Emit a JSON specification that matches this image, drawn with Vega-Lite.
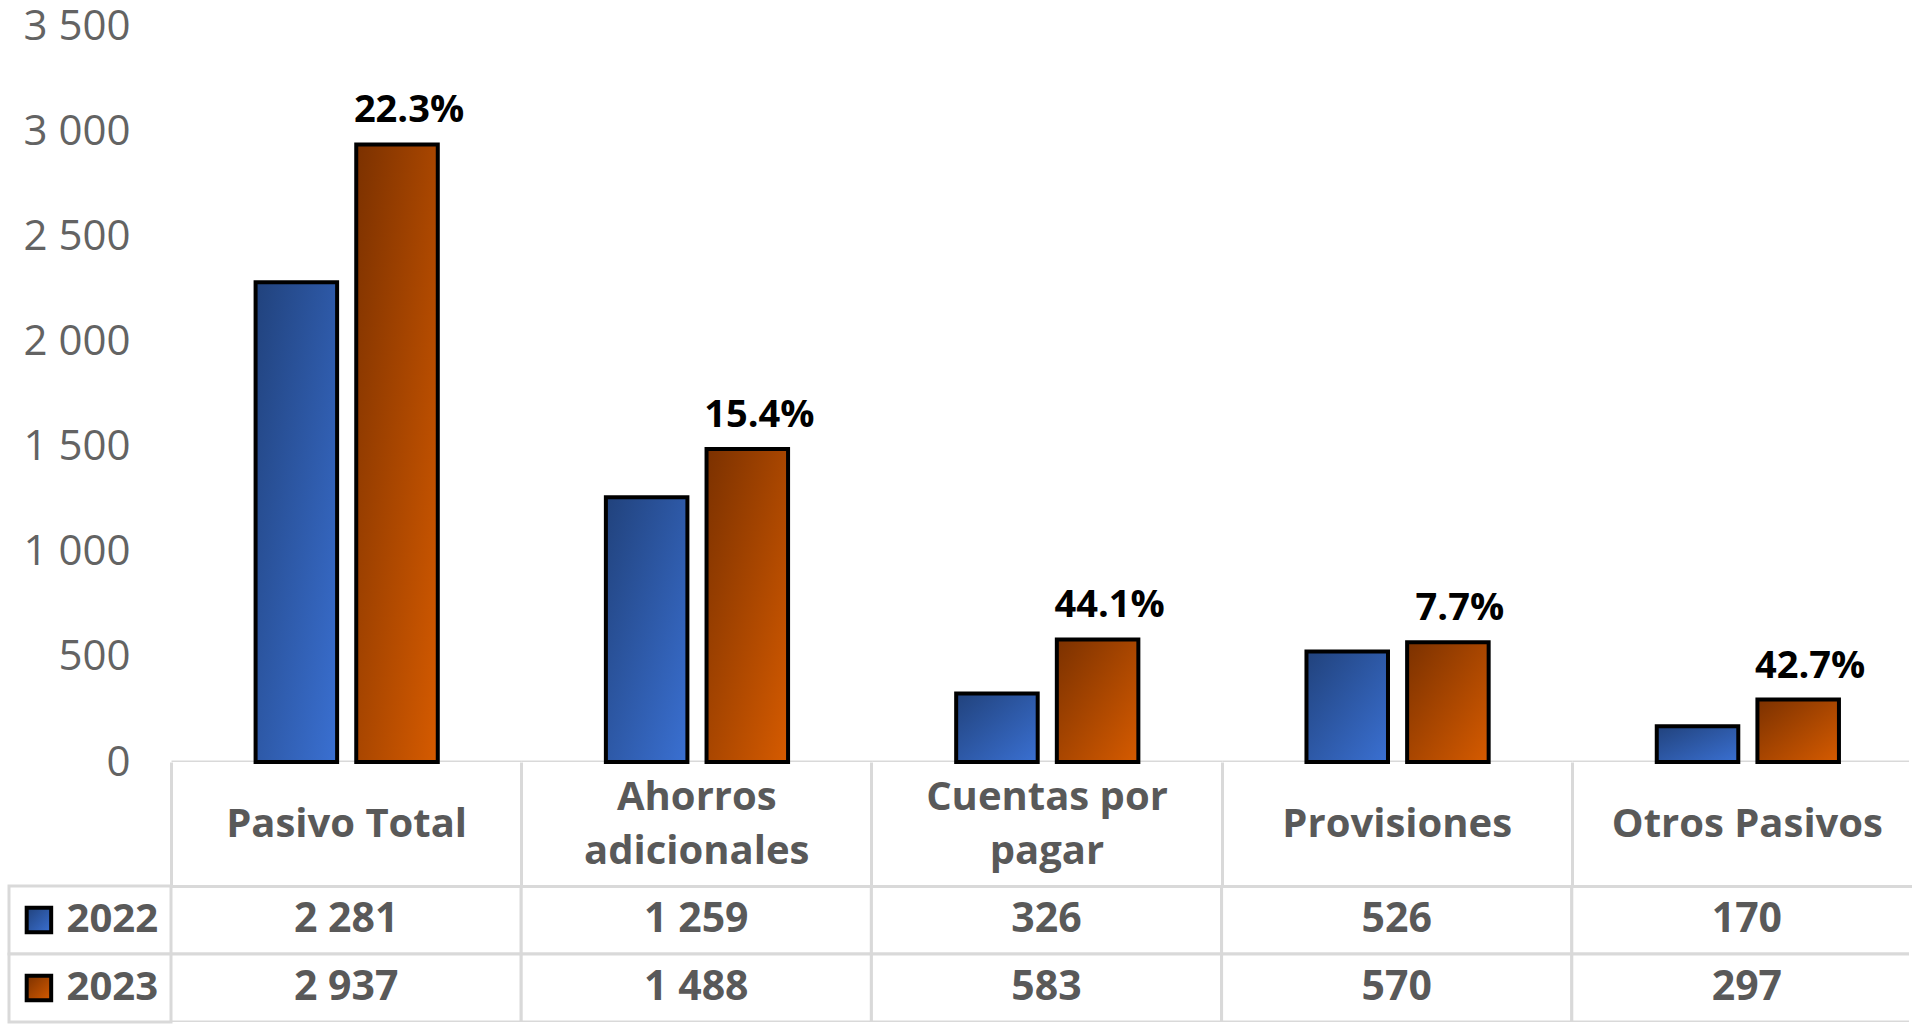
{
  "$schema": "https://vega.github.io/schema/vega-lite/v6.json",
  "padding": {"left": 7, "top": 5, "right": 0, "bottom": 0},
  "config": {
    "locale": {"number": {"decimal": ".", "thousands": " ", "grouping": [3], "currency": ["", ""]}},
    "view": {"stroke": null},
    "font": "Open Sans"
  },
  "data": {"values": [
    {"category": "Pasivo Total", "year": "2022", "value": 2281, "variacion": null},
    {"category": "Pasivo Total", "year": "2023", "value": 2937, "variacion": 0.223},
    {"category": "Ahorros adicionales", "year": "2022", "value": 1259, "variacion": null},
    {"category": "Ahorros adicionales", "year": "2023", "value": 1488, "variacion": 0.154},
    {"category": "Cuentas por pagar", "year": "2022", "value": 326, "variacion": null},
    {"category": "Cuentas por pagar", "year": "2023", "value": 583, "variacion": 0.441},
    {"category": "Provisiones", "year": "2022", "value": 526, "variacion": null},
    {"category": "Provisiones", "year": "2023", "value": 570, "variacion": 0.077},
    {"category": "Otros Pasivos", "year": "2022", "value": 170, "variacion": null},
    {"category": "Otros Pasivos", "year": "2023", "value": 297, "variacion": 0.427}
  ]},
  "bounds": "flush",
  "spacing": 124,
  "resolve": {"scale": {"x": "independent", "y": "independent"}},
  "vconcat": [
    {
      "width": 1900,
      "height": 736,
      "layer": [
        {
          "transform": [{"filter": "datum.year === '2022'"}],
          "mark": {"type": "bar", "filled": false, "stroke": "#d9d9d9", "strokeWidth": 3, "clip": true},
          "encoding": {
            "x": {"field": "category", "type": "nominal", "sort": null,
                  "scale": {"domain": ["Pasivo Total", "Ahorros adicionales", "Cuentas por pagar", "Provisiones", "Otros Pasivos"], "paddingInner": 0, "paddingOuter": 0.232, "align": 1, "rangeMax": 1914},
                  "axis": null},
            "y": {"datum": 0, "type": "quantitative"},
            "y2": {"datum": 0}
          }
        },
        {
          "mark": {"type": "bar", "stroke": "#000000", "strokeWidth": 4},
          "encoding": {
            "x": {"field": "category", "type": "nominal", "sort": null},
            "xOffset": {"field": "year", "type": "nominal", "scale": {"domain": ["2022", "2023"], "paddingInner": 0.19, "paddingOuter": 0.835}},
            "y": {"field": "value", "type": "quantitative",
                  "scale": {"domain": [0, 3500], "nice": false},
                  "axis": {"values": [0, 500, 1000, 1500, 2000, 2500, 3000, 3500], "format": ",d", "title": null,
                           "labelFontSize": 42, "labelColor": "#636363", "labelFont": "Open Sans",
                           "labelPadding": 41, "offset": -162, "domain": false, "ticks": false, "tickSize": 0, "grid": false}},
            "fill": {
              "condition": {"test": "datum.year === '2022'", "value": {"gradient": "linear", "x1": 0, "y1": 0, "x2": 1, "y2": 1, "stops": [{"offset": 0, "color": "#21427c"}, {"offset": 1, "color": "#3a70d2"}]}},
              "value": {"gradient": "linear", "x1": 0, "y1": 0, "x2": 1, "y2": 1, "stops": [{"offset": 0, "color": "#7b3100"}, {"offset": 1, "color": "#d65b00"}]}
            }
          }
        },
        {
          "transform": [{"filter": "isValid(datum.variacion)"}],
          "mark": {"type": "text", "fontWeight": "bold", "fontSize": 38, "color": "#000000", "baseline": "middle", "dy": -33, "dx": 12, "font": "Open Sans"},
          "encoding": {
            "x": {"field": "category", "type": "nominal", "sort": null},
            "xOffset": {"field": "year", "type": "nominal"},
            "y": {"field": "value", "type": "quantitative"},
            "text": {"field": "variacion", "type": "quantitative", "format": ".1%"}
          }
        }
      ]
    },
    {
      "bounds": "flush",
      "spacing": 0,
      "resolve": {"scale": {"x": "independent", "y": "independent"}},
      "hconcat": [
        {
          "width": 162,
          "height": 136,
          "transform": [{"filter": "datum.category === 'Pasivo Total'"}],
          "layer": [
            {
              "mark": {"type": "rect", "fill": "#ffffff", "stroke": "#d9d9d9", "strokeWidth": 3},
              "encoding": {
                "y": {"field": "year", "type": "nominal", "scale": {"domain": ["2022", "2023"], "paddingInner": 0, "paddingOuter": 0}, "axis": null}
              }
            },
            {
              "mark": {"type": "point", "shape": "square", "filled": true, "size": 600, "stroke": "#000000", "strokeWidth": 4, "opacity": 1},
              "encoding": {
                "x": {"datum": "sym", "type": "nominal", "scale": {"type": "point", "domain": ["sym", "name"], "padding": 0.18, "align": 0.698}, "axis": null},
                "y": {"field": "year", "type": "nominal"},
                "fill": {
                  "condition": {"test": "datum.year === '2022'", "value": {"gradient": "linear", "x1": 0, "y1": 0, "x2": 1, "y2": 1, "stops": [{"offset": 0, "color": "#21427c"}, {"offset": 1, "color": "#3a70d2"}]}},
                  "value": {"gradient": "linear", "x1": 0, "y1": 0, "x2": 1, "y2": 1, "stops": [{"offset": 0, "color": "#7b3100"}, {"offset": 1, "color": "#d65b00"}]}
                }
              }
            },
            {
              "mark": {"type": "text", "align": "right", "baseline": "middle", "fontSize": 40, "fontWeight": "bold", "color": "#595959", "font": "Open Sans"},
              "encoding": {
                "x": {"datum": "name", "type": "nominal"},
                "y": {"field": "year", "type": "nominal"},
                "text": {"field": "year", "type": "nominal"}
              }
            }
          ]
        },
        {
          "width": 1738,
          "height": 136,
          "layer": [
            {
              "mark": {"type": "rect", "fill": "#ffffff", "stroke": "#d9d9d9", "strokeWidth": 3, "clip": true},
              "encoding": {
                "x": {"field": "category", "type": "nominal", "sort": null,
                      "scale": {"domain": ["Pasivo Total", "Ahorros adicionales", "Cuentas por pagar", "Provisiones", "Otros Pasivos"], "paddingInner": 0, "paddingOuter": 0, "rangeMax": 1751},
                      "axis": {"orient": "top", "title": null,
                               "labelExpr": "length(datum.label) > 14 ? [substring(datum.label, 0, lastindexof(datum.label, ' ')), substring(datum.label, lastindexof(datum.label, ' ') + 1)] : datum.label",
                               "labelFontSize": 40, "labelFontWeight": "bold", "labelColor": "#595959", "labelFont": "Open Sans",
                               "labelBaseline": {"condition": {"test": "length(datum.label) > 14", "value": "line-bottom"}, "value": "middle"},
                               "labelLineHeight": 54, "labelPadding": -62, "labelAngle": 0,
                               "labelLimit": 0, "labelOverlap": false,
                               "tickSize": 124, "tickWidth": 3, "tickColor": "#d9d9d9", "tickBand": "extent", "tickExtra": false,
                               "domain": true, "domainColor": "#d9d9d9", "domainWidth": 3, "grid": false}},
                "y": {"field": "year", "type": "nominal", "scale": {"domain": ["2022", "2023"], "paddingInner": 0, "paddingOuter": 0}, "axis": null}
              }
            },
            {
              "mark": {"type": "text", "baseline": "middle", "fontSize": 41, "fontWeight": "bold", "color": "#595959", "font": "Open Sans"},
              "encoding": {
                "x": {"field": "category", "type": "nominal", "sort": null},
                "y": {"field": "year", "type": "nominal"},
                "text": {"field": "value", "type": "quantitative", "format": ",d"}
              }
            }
          ]
        }
      ]
    }
  ]
}
